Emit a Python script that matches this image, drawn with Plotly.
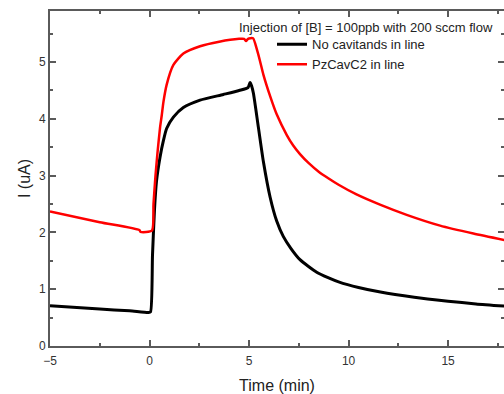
import plotly.graph_objects as go

# Time (min) and current (uA)
t_black = [-5, -2.5, -1, -0.05, 0.05, 0.15, 0.25, 0.35, 0.53, 0.7, 0.86, 1.2, 1.7, 2.54, 3.71, 4.5,
           4.95, 5.05, 5.13, 5.22, 5.47, 5.72, 6.06, 6.39, 6.72, 7.1, 7.56, 8.4, 9.0, 9.5, 10.5, 11.6,
           13.3, 15.0, 16.4, 17.9]
i_black = [0.71, 0.65, 0.62, 0.59, 0.60, 1.6, 2.4, 2.9, 3.33, 3.62, 3.83, 4.03, 4.2, 4.33, 4.43, 4.5,
           4.55, 4.64, 4.58, 4.45, 3.85, 3.25, 2.62, 2.2, 1.93, 1.72, 1.52, 1.3, 1.2, 1.13, 1.03, 0.95,
           0.86, 0.79, 0.74, 0.70]

t_red = [-5, -2.5, -0.5, -0.45, 0.12, 0.2, 0.3, 0.4, 0.53, 0.61, 0.7, 0.86, 1.2, 1.7, 2.54, 3.5,
         4.5, 4.75, 4.85, 4.95, 5.2, 5.38, 5.55, 5.72, 6.06, 6.39, 6.89, 7.22, 7.56, 8.0, 8.5, 9.0,
         9.5, 10.4, 11.58, 12.92, 14.6, 16.27, 17.9]
i_red = [2.37, 2.18, 2.04, 2.01, 2.03, 2.5, 3.0, 3.4, 3.85, 4.05, 4.3, 4.6, 4.95, 5.15, 5.28, 5.36,
         5.41, 5.41, 5.37, 5.41, 5.42, 5.24, 5.02, 4.78, 4.4, 4.08, 3.72, 3.53, 3.38, 3.22, 3.07, 2.95,
         2.84, 2.67, 2.49, 2.31, 2.12, 1.98, 1.86]

series_names = ["No cavitands in line", "PzCavC2 in line"]
legend_heading = "Injection of [B] = 100ppb with 200 sccm flow"
x_title = "Time (min)"
y_title = "I (uA)"

axis_col = "#5a5a5a"
font_fam = "Liberation Sans, Arial, sans-serif"

fig = go.Figure()
fig.add_trace(go.Scatter(x=t_black, y=i_black, mode="lines", name=series_names[0],
                         line=dict(color="black", width=3, shape="spline", smoothing=0.6)))
fig.add_trace(go.Scatter(x=t_red, y=i_red, mode="lines", name=series_names[1],
                         line=dict(color="#ff0000", width=2.5, shape="spline", smoothing=0.6)))

common = dict(showline=True, linecolor=axis_col, linewidth=2, mirror="ticks", ticks="inside",
              tickcolor=axis_col, tickwidth=1.5, showgrid=False, zeroline=False, automargin=False,
              tickfont=dict(family=font_fam, size=12, color="#333333"))

fig.update_xaxes(range=[-5, 17.81], tickvals=[-5, 0, 5, 10, 15], ticklen=6, ticklabelstandoff=3,
                 minor=dict(tickvals=[-2.5, 2.5, 7.5, 12.5, 17.5], ticklen=3, ticks="inside",
                            tickcolor=axis_col, tickwidth=1.5),
                 title=dict(text=x_title, font=dict(family=font_fam, size=16, color="#222222")),
                 **common)
fig.update_yaxes(range=[0, 5.9], tickvals=[0, 1, 2, 3, 4, 5], ticklen=6,
                 minor=dict(tickvals=[0.5, 1.5, 2.5, 3.5, 4.5, 5.5], ticklen=3, ticks="inside",
                            tickcolor=axis_col, tickwidth=1.5),
                 title=dict(text=y_title, font=dict(family=font_fam, size=16, color="#222222"), standoff=4),
                 **common)

fig.add_annotation(text=legend_heading, xref="paper", yref="paper", x=(237 - 50) / 454, y=(345.7 - 27) / 335,
                   xanchor="left", yanchor="middle", showarrow=False,
                   font=dict(family=font_fam, size=13, color="#222222"))

fig.update_layout(
    width=504, height=394,
    margin=dict(l=50, r=0, t=11, b=48, autoexpand=False),
    paper_bgcolor="white", plot_bgcolor="white",
    showlegend=True,
    legend=dict(x=(272 - 50) / 454, y=(345.7 - 29) / 335, xanchor="left", yanchor="top",
                bgcolor="rgba(0,0,0,0)", borderwidth=0, tracegroupgap=0,
                font=dict(family=font_fam, size=13, color="#222222")),
)

fig.write_html("out.html", config={"displayModeBar": False},
               post_script="document.body.style.margin='0';document.body.style.overflow='hidden';")
